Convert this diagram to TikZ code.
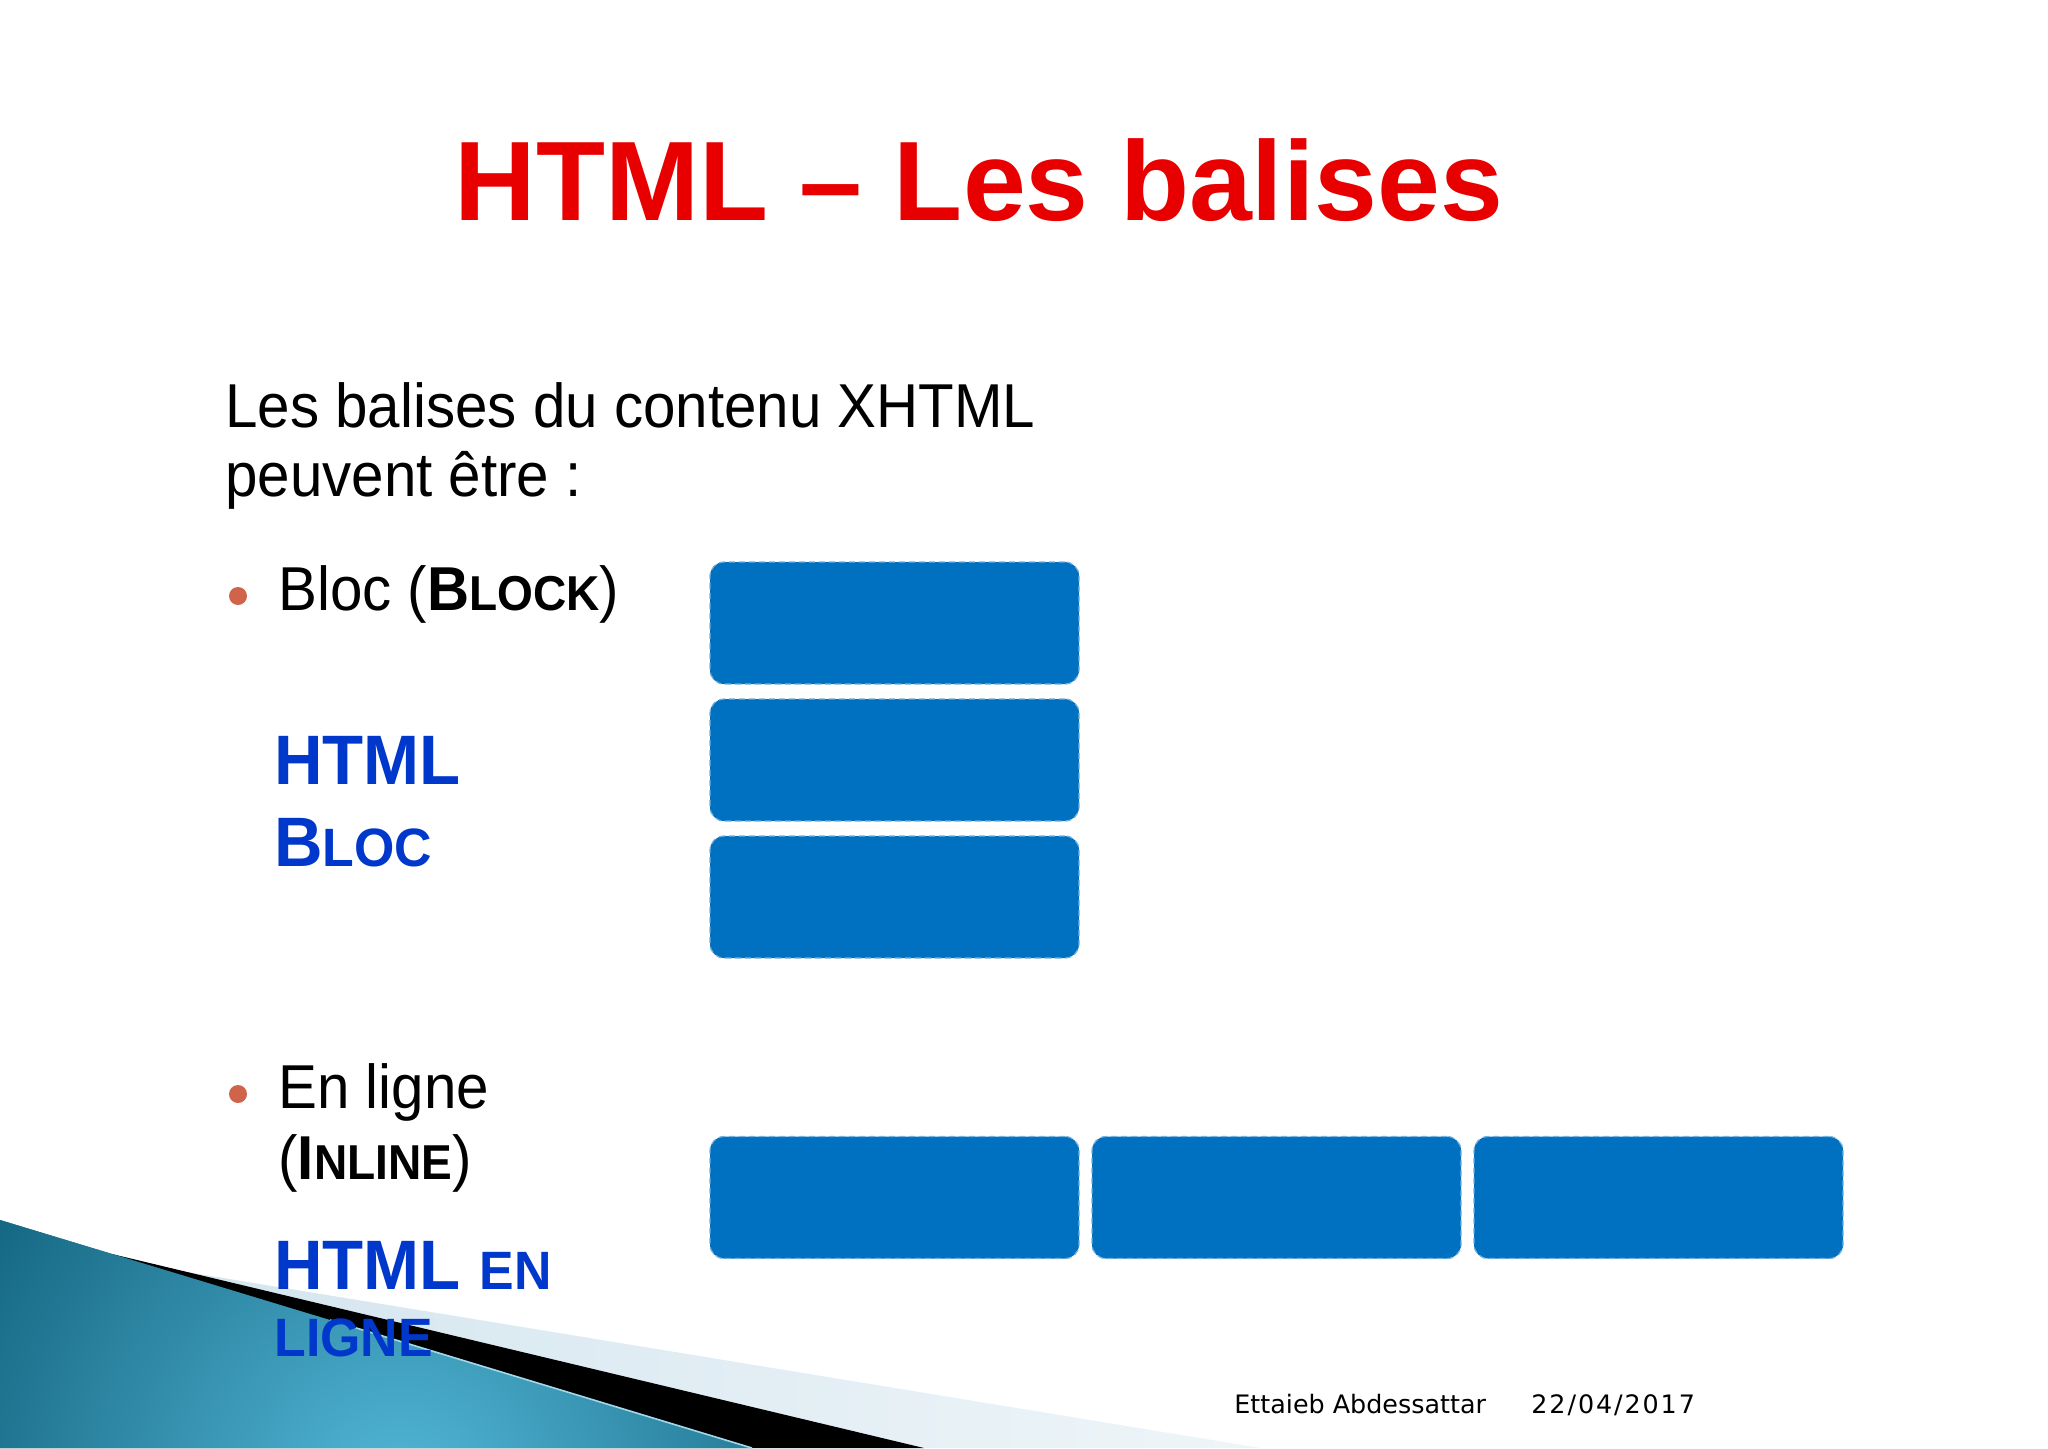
\documentclass[tikz,border=0pt]{standalone}
\usepackage{fontspec}
\setmainfont{Liberation Sans}
\newfontfamily\corpsfont[FakeStretch=0.94]{Liberation Sans}
\newfontfamily\bleufont[FakeStretch=0.96]{Liberation Sans}
\newfontfamily\piedfont{DejaVu Sans}
\newfontfamily\datefont[LetterSpace=7.5]{DejaVu Sans}
\usetikzlibrary{positioning}

\definecolor{titrerouge}{RGB}{232,0,0}
\definecolor{boitebleu}{RGB}{0,112,192}
\definecolor{texbleu}{RGB}{0,56,204}
\definecolor{puceorange}{RGB}{208,100,75}
\definecolor{tealsombre}{RGB}{12,92,118}
\definecolor{tealclair}{RGB}{84,184,216}
\definecolor{bandeclair}{RGB}{208,227,237}

% petites capitales faites a la main
\newcommand{\pcap}[2]{{\fontsize{#1}{#1}\selectfont #2}}

\tikzset{
  titre/.style={font=\fontsize{56.5}{60}\selectfont\bfseries, text=titrerouge, inner sep=0pt},
  texte/.style={font=\corpsfont\fontsize{31}{34}\selectfont, inner sep=0pt, anchor=base west},
  bleutexte/.style={font=\bleufont\fontsize{35}{40}\selectfont\bfseries, text=texbleu, inner sep=0pt, anchor=base west},
  puce/.style={circle, fill=puceorange, minimum size=9pt, inner sep=0pt},
  boite/.style={rectangle, rounded corners=7pt, fill=boitebleu, draw=boitebleu!55!white,
    densely dashed, line width=0.6pt, minimum width=184.5pt, minimum height=61pt,
    inner sep=0pt, outer sep=0pt},
  pied/.style={font=\piedfont\fontsize{12.7}{14}\selectfont, inner sep=0pt, anchor=base west}
}

\begin{document}
\begin{tikzpicture}[x=0.5pt, y=-0.5pt]
  \useasboundingbox (0,0) rectangle (2048,1448);
  \fill[white] (0,0) rectangle (2048,1448);

  % bandeau decoratif en bas a gauche
  \shade[left color=bandeclair, right color=bandeclair!35!white]
    (150,1266) -- (1261,1448) -- (0,1448) -- cycle;
  \fill[black] (112,1254) -- (924,1448) -- (0,1448) -- cycle;
  \begin{scope}
    \clip (0,1220) -- (752,1448) -- (0,1448) -- cycle;
    \fill[tealsombre] (0,1200) rectangle (760,1448);
    \shade[inner color=tealclair, outer color=tealsombre] (400,1500) circle (560);
  \end{scope}
  \draw[tealclair!55!white, line width=0.8pt] (330,1320) -- (752,1448);

  % titre
  \node[titre, anchor=base] (titre) at (979,220) {HTML – Les balises};

  % texte
  \node[texte] (intro1) at (225,427) {Les balises du contenu XHTML};
  \node[texte] (intro2) at (225,496) {peuvent être :};

  \node[puce] (puce1) at (238,596) {};
  \node[texte] (bloc) at (278,610) {Bloc (\textbf{B\pcap{24.5}{LOCK}})};
  \node[bleutexte] (htmlbloc1) at (274,784) {HTML};
  \node[bleutexte] (htmlbloc2) at (274,866) {B\pcap{27}{LOC}};

  \node[puce] (puce2) at (238,1094) {};
  \node[texte] (enligne) at (278,1108) {En ligne};
  \node[texte] (inline) at (278,1179) {(\textbf{I\pcap{24.5}{NLINE}})};
  \node[bleutexte] (htmlligne1) at (274,1289) {HTML \pcap{27}{EN}};
  \node[bleutexte] (htmlligne2) at (274,1356) {\pcap{27}{LIGNE}};

  % boites bloc
  \node[boite] (bloc1) at (894.5,623) {};
  \node[boite, below=7.5pt of bloc1] (bloc2) {};
  \node[boite, below=7.5pt of bloc2] (bloc3) {};

  % boites en ligne
  \node[boite] (ligne1) at (894.5,1197.5) {};
  \node[boite, right=6.5pt of ligne1] (ligne2) {};
  \node[boite, right=6.5pt of ligne2] (ligne3) {};

  % pied de page
  \node[pied] (auteur) at (1234,1413) {Ettaieb Abdessattar};
  \node[pied, font=\datefont\fontsize{12.7}{14}\selectfont] (date) at (1531,1413) {22/04/2017};
\end{tikzpicture}
\end{document}
